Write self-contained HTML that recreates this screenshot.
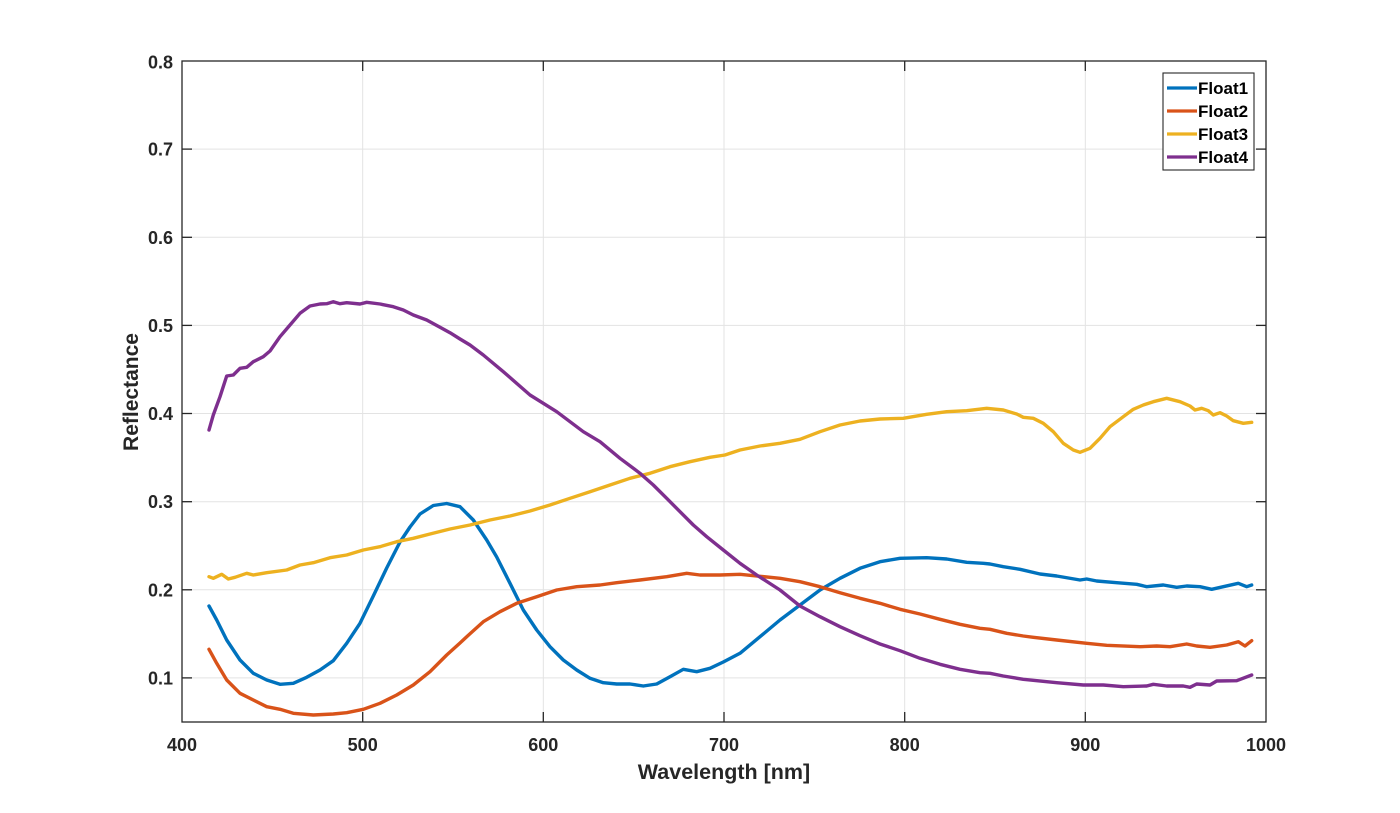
<!DOCTYPE html>
<html><head><meta charset="utf-8"><style>
html,body{margin:0;padding:0;background:#fff;}
svg{display:block;}
text{font-family:"Liberation Sans",Arial,sans-serif;font-weight:bold;fill:#262626;}
</style></head><body>
<svg width="1400" height="813" viewBox="0 0 1400 813" xmlns="http://www.w3.org/2000/svg">
<rect width="1400" height="813" fill="#fff"/>
<g stroke="#e3e3e3" stroke-width="1">
<line x1="362.7" y1="61" x2="362.7" y2="722"/>
<line x1="543.3" y1="61" x2="543.3" y2="722"/>
<line x1="724" y1="61" x2="724" y2="722"/>
<line x1="904.7" y1="61" x2="904.7" y2="722"/>
<line x1="1085.3" y1="61" x2="1085.3" y2="722"/>
<line x1="182" y1="149.1" x2="1266" y2="149.1"/>
<line x1="182" y1="237.3" x2="1266" y2="237.3"/>
<line x1="182" y1="325.4" x2="1266" y2="325.4"/>
<line x1="182" y1="413.5" x2="1266" y2="413.5"/>
<line x1="182" y1="501.7" x2="1266" y2="501.7"/>
<line x1="182" y1="589.8" x2="1266" y2="589.8"/>
<line x1="182" y1="677.9" x2="1266" y2="677.9"/>
</g>
<g fill="none" stroke-width="3.4" stroke-linejoin="round" stroke-linecap="round">
<polyline stroke="#0072BD" points="209,606 216.7,620 226.7,640 240,660 253.3,673.3 266.7,680 280,684.3 293.3,683.3 306.7,677.3 320,670 333.3,660.7 346.7,643.3 360,623.3 373.3,596 386.7,568 400,542 410,527 420,514 433.3,505.5 446.7,503.5 460,506.7 473.3,520 486.7,540 496.7,557 510,583.3 523.3,610 536.7,630 550,646.7 563.3,660 576.7,670 590,678.3 603.3,682.7 616.7,684 630,684 643.3,686 656.7,684 670,676.7 683.3,669.3 696.7,671.7 710,668.3 723.3,662 740,653.3 760,636.7 780,620 800,605 820,590 840,578.3 860,568.3 880,561.7 900,558.3 926.7,557.7 946.7,559 966.7,562.3 983.3,563.3 990,564 1003.3,566.7 1020,569.3 1040,574 1056.7,576 1080,580 1086.7,579 1096.7,581 1116.7,582.7 1136.7,584.3 1146.7,586.7 1163.3,585 1176.7,587.3 1186.7,586 1200,586.7 1211.7,589.3 1223.3,586.7 1238.3,583.3 1246.7,586.7 1251.7,585"/>
<polyline stroke="#D95319" points="209,649.3 216.7,663.3 226.7,680 240,693.3 253.3,700 266.7,706.7 280,709.3 293.3,713.3 313.3,715 333.3,714 346.7,712.7 363.3,709.3 380,703.3 396.7,695 413.3,685 430,671.7 446.7,655 460,643 466.7,636.7 483.3,621.7 500,611.7 516.7,603.3 536.7,596.7 556.7,590 576.7,586.7 600,585 616.7,582.7 640,580 666.7,576.7 686.7,573.3 700,575 720,575 740,574.3 760,576.3 780,578.3 800,581.7 820,586.7 840,592.7 860,598.3 880,603.3 900,609.3 920,614 940,619.3 960,624.3 980,628.3 990,629.3 1006.7,633.3 1023.3,636 1033.3,637.3 1056.7,640 1086.7,643.3 1106.7,645.3 1140,646.7 1156.7,646 1170,646.7 1186.7,644 1196.7,646 1210,647.3 1226.7,645 1238.3,641.7 1245,646 1251.7,640.7"/>
<polyline stroke="#EDB120" points="209,576.7 213.3,578.3 221.7,574.3 228.3,579 235,577.3 246.7,573.3 253.3,575 266.7,572.7 286.7,570 300,565 313.3,562.7 330,557.7 346.7,555 363.3,550 380,546.7 396.7,541.7 413.3,538.3 430,534 450,529 470,525 490,520 510,516 530,511 550,505 570,498.3 590,491.7 610,485 630,478.3 650,473.3 670,466.7 690,461.7 710,457.3 725,455 740,450 760,446 780,443.3 800,439.3 820,431.7 840,425 860,421 880,419 903.3,418.3 926.7,414.3 946.7,411.7 966.7,410.7 986.7,408.3 1003.3,410 1016.7,414 1023.3,417.3 1033.3,418.3 1043.3,423.3 1053.3,431.7 1063.3,443.3 1073.3,450 1080,452.3 1090,448.3 1100,438.3 1110,426.7 1123.3,416.7 1133.3,409.3 1143.3,405 1153.3,401.7 1166.7,398.3 1180,401.7 1190,406 1195,410 1201.7,408.3 1208.3,410.7 1213.3,415 1220,412.7 1226.7,416 1233.3,420.7 1243.3,423.3 1251.7,422.3"/>
<polyline stroke="#7E2F8E" points="209,430 213.3,415 220,396.7 226.7,376 233.3,375 240,368.3 246.7,367.3 253.3,361.7 263.3,356.7 270,351 280,336.7 290,325 300,313.3 310,306 320,304 326.7,303.7 333.3,301.7 340,303.7 346.7,302.7 360,304 366.7,302.3 380,304 393.3,306.7 403.3,310 413.3,315 426.7,320 440,327.3 450,332.7 460,339 470,345 483.3,355 503.3,371.7 530,395 556.7,411.7 583.3,431.7 600,441.7 620,458.3 640,473.3 653.3,485 666.7,498.3 680,511.7 693.3,525 706.7,536.7 723.3,550 740,563.3 756.7,575 780,590 800,606 820,616.7 840,626.7 860,635.7 880,644 900,650.7 920,658.3 940,664.3 960,669.3 980,672.7 990,673.3 1003.3,676 1023.3,679.3 1056.7,682.7 1083.3,685 1103.3,685 1123.3,686.7 1146.7,686 1153.3,684.3 1166.7,686 1183.3,686 1190,687.3 1196.7,684 1210,685 1216.7,681 1236.7,680.7 1251.7,675"/>
</g>
<rect x="182" y="61" width="1084" height="661" fill="none" stroke="#262626" stroke-width="1.3"/>
<g stroke="#262626" stroke-width="1.3">
<line x1="362.7" y1="722" x2="362.7" y2="712"/><line x1="543.3" y1="722" x2="543.3" y2="712"/><line x1="724" y1="722" x2="724" y2="712"/><line x1="904.7" y1="722" x2="904.7" y2="712"/><line x1="1085.3" y1="722" x2="1085.3" y2="712"/>
<line x1="362.7" y1="61" x2="362.7" y2="71"/><line x1="543.3" y1="61" x2="543.3" y2="71"/><line x1="724" y1="61" x2="724" y2="71"/><line x1="904.7" y1="61" x2="904.7" y2="71"/><line x1="1085.3" y1="61" x2="1085.3" y2="71"/>
<line x1="182" y1="149.1" x2="192" y2="149.1"/><line x1="182" y1="237.3" x2="192" y2="237.3"/><line x1="182" y1="325.4" x2="192" y2="325.4"/><line x1="182" y1="413.5" x2="192" y2="413.5"/><line x1="182" y1="501.7" x2="192" y2="501.7"/><line x1="182" y1="589.8" x2="192" y2="589.8"/><line x1="182" y1="677.9" x2="192" y2="677.9"/>
<line x1="1266" y1="149.1" x2="1256" y2="149.1"/><line x1="1266" y1="237.3" x2="1256" y2="237.3"/><line x1="1266" y1="325.4" x2="1256" y2="325.4"/><line x1="1266" y1="413.5" x2="1256" y2="413.5"/><line x1="1266" y1="501.7" x2="1256" y2="501.7"/><line x1="1266" y1="589.8" x2="1256" y2="589.8"/><line x1="1266" y1="677.9" x2="1256" y2="677.9"/>
</g>
<g font-size="18" text-anchor="end">
<text x="173" y="68.5">0.8</text>
<text x="173" y="155.6">0.7</text>
<text x="173" y="243.8">0.6</text>
<text x="173" y="331.9">0.5</text>
<text x="173" y="420">0.4</text>
<text x="173" y="508.2">0.3</text>
<text x="173" y="596.3">0.2</text>
<text x="173" y="684.4">0.1</text>
</g>
<g font-size="18" text-anchor="middle">
<text x="182" y="751">400</text>
<text x="362.7" y="751">500</text>
<text x="543.3" y="751">600</text>
<text x="724" y="751">700</text>
<text x="904.7" y="751">800</text>
<text x="1085.3" y="751">900</text>
<text x="1266" y="751">1000</text>
</g>
<text x="724" y="779" font-size="21.5" text-anchor="middle">Wavelength [nm]</text>
<text transform="translate(138,392) rotate(-90)" font-size="21" text-anchor="middle">Reflectance</text>
<rect x="1163" y="73" width="91" height="97" fill="#fff" stroke="#262626" stroke-width="1.1"/>
<g stroke-width="3.2">
<line x1="1167" y1="88" x2="1197" y2="88" stroke="#0072BD"/>
<line x1="1167" y1="111" x2="1197" y2="111" stroke="#D95319"/>
<line x1="1167" y1="134" x2="1197" y2="134" stroke="#EDB120"/>
<line x1="1167" y1="157" x2="1197" y2="157" stroke="#7E2F8E"/>
</g>
<g font-size="17">
<text x="1198" y="94" style="fill:#000">Float1</text>
<text x="1198" y="117" style="fill:#000">Float2</text>
<text x="1198" y="140" style="fill:#000">Float3</text>
<text x="1198" y="163" style="fill:#000">Float4</text>
</g>
</svg>
</body></html>
